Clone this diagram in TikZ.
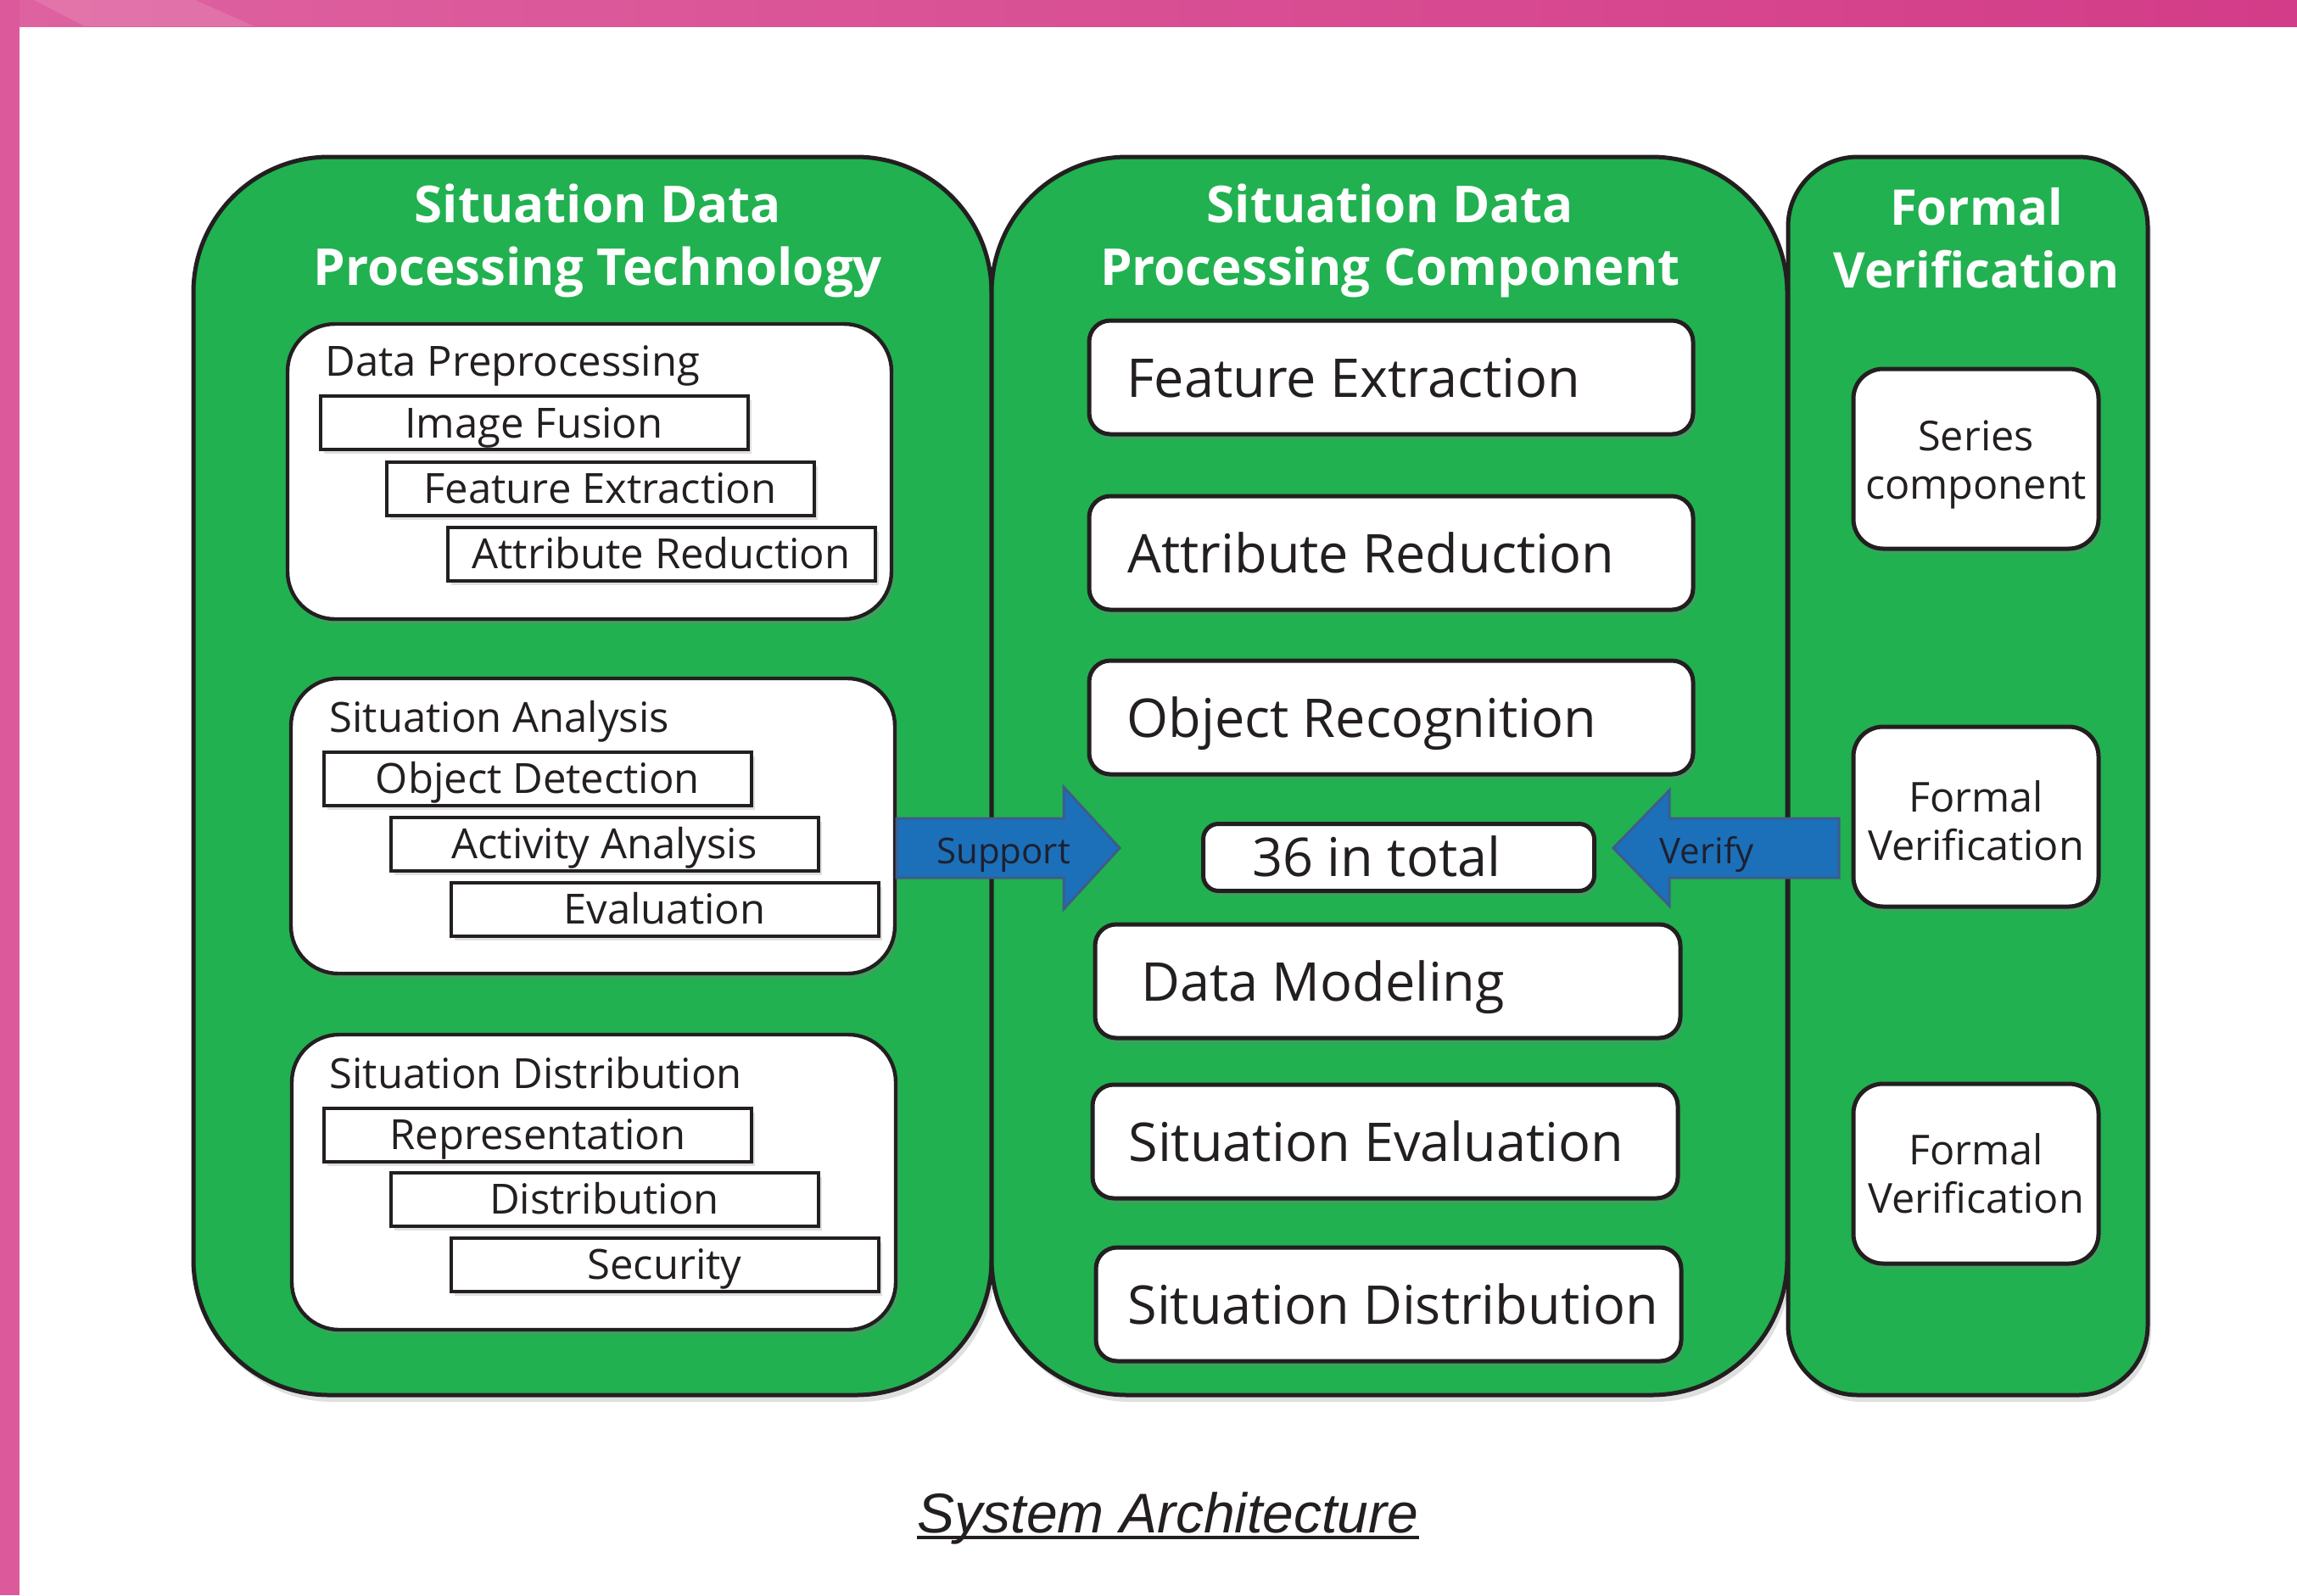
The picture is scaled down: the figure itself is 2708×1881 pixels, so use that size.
\documentclass[tikz,border=0pt]{standalone}
\usepackage{fontspec}
\setmainfont{Open Sans}
\newfontfamily\capfont{Liberation Sans}
\usetikzlibrary{shadows}
\definecolor{pgreen}{RGB}{33,177,80}
\definecolor{lineblk}{RGB}{35,31,32}
\definecolor{ablue}{RGB}{27,112,185}
\definecolor{aborder}{RGB}{62,92,140}
\definecolor{atext}{RGB}{30,32,48}
\definecolor{pinkL}{RGB}{222,98,160}
\definecolor{pinkR}{RGB}{211,60,136}
\definecolor{pinkSide}{RGB}{220,90,155}
\tikzset{
  panel/.style={draw=lineblk, line width=2.5pt, fill=pgreen, inner sep=0pt,
    drop shadow={shadow xshift=2pt, shadow yshift=-4pt, opacity=0.25}},
  ttl/.style={text=white, anchor=base, inner sep=0pt, font=\bfseries\fontsize{30}{37}\selectfont},
  wbox/.style={draw=lineblk, line width=2.2pt, fill=white, rounded corners=28pt,
    minimum width=356pt, minimum height=174pt, inner sep=0pt,
    drop shadow={shadow xshift=2pt, shadow yshift=-3pt, opacity=0.3}},
  heading/.style={anchor=base west, inner sep=0pt, text=lineblk, font=\fontsize{24.5}{29}\selectfont},
  subrect/.style={draw=lineblk, line width=2pt, fill=white, minimum width=252pt,
    minimum height=31.5pt, inner sep=0pt, text=lineblk, font=\fontsize{24.5}{29}\selectfont,
    text height=17.5pt, text depth=0pt,
    drop shadow={shadow xshift=2pt, shadow yshift=-2.5pt, opacity=0.25}},
  mbox/.style={draw=lineblk, line width=2.5pt, fill=white, rounded corners=12.5pt,
    minimum height=67pt, inner sep=0pt,
    drop shadow={shadow xshift=1.5pt, shadow yshift=-3pt, opacity=0.3}},
  mtext/.style={anchor=base west, inner sep=0pt, text=lineblk, font=\fontsize{31.5}{38}\selectfont},
  rbox/.style={draw=lineblk, line width=2.5pt, fill=white, rounded corners=17.5pt,
    minimum width=144.5pt, minimum height=106pt, inner sep=0pt,
    drop shadow={shadow xshift=1.5pt, shadow yshift=-3pt, opacity=0.3}},
  rtext/.style={inner sep=0pt, align=center, text=lineblk, font=\fontsize{24.3}{28.5}\selectfont},
  barrow/.style={fill=ablue, draw=aborder, line width=1.5pt, line join=miter},
  atxt/.style={anchor=base, inner sep=0pt, text=atext, font=\fontsize{21}{25}\selectfont}
}
\begin{document}
\begin{tikzpicture}[x=0.5pt, y=-0.5pt]
\useasboundingbox (0,0) rectangle (2708,1881);
\fill[white] (0,0) rectangle (2708,1881);
% pink frame
\shade[left color=pinkL, right color=pinkR] (0,0) rectangle (2708,31);
\fill[white, opacity=0.12] (40,0) -- (230,0) -- (300,31) -- (100,31) -- cycle;
\fill[pinkSide] (0,0) rectangle (23,1881);

% panels
\node[panel, rounded corners=80pt, minimum width=470.5pt, minimum height=730pt] (pl) at (698.5,915) {};
\node[panel, rounded corners=80pt, minimum width=469pt, minimum height=730pt] (pm) at (1638,915) {};
\node[panel, rounded corners=41pt, minimum width=212pt, minimum height=730pt] (pr) at (2320,915) {};

% titles
\node[ttl] (tl1) at (705,262) {Situation Data};
\node[ttl] (tl2) at (705,336) {Processing Technology};
\node[ttl] (tm1) at (1639,262) {Situation Data};
\node[ttl] (tm2) at (1639,336) {Processing Component};
\node[ttl, font=\bfseries\fontsize{29}{36}\selectfont] (tr1) at (2330,265) {Formal};
\node[ttl, font=\bfseries\fontsize{29}{36}\selectfont] (tr2) at (2330,339) {Verification};

% left boxes
\node[wbox] (b1) at (695,556) {};
\node[heading] (h1) at (383,443) {Data Preprocessing};
\node[subrect] (s11) at (629.5,498.5) {Image Fusion};
\node[subrect] (s12) at (707.5,576) {Feature Extraction};
\node[subrect] (s13) at (779.5,653) {Attribute Reduction};

\node[wbox] (b2) at (699,974) {};
\node[heading] (h2) at (388,863) {Situation Analysis};
\node[subrect] (s21) at (634,918) {Object Detection};
\node[subrect] (s22) at (712.5,995) {Activity Analysis};
\node[subrect] (s23) at (783.5,1072) {Evaluation};

\node[wbox] (b3) at (700,1394) {};
\node[heading] (h3) at (388,1283) {Situation Distribution};
\node[subrect] (s31) at (634,1338) {Representation};
\node[subrect] (s32) at (712.5,1414) {Distribution};
\node[subrect] (s33) at (783.5,1491) {Security};

% middle boxes
\node[mbox, minimum width=356pt] (m1) at (1640,445) {};
\node[mtext] (m1t) at (1328,468) {Feature Extraction};
\node[mbox, minimum width=356pt] (m2) at (1640,652) {};
\node[mtext] (m2t) at (1329,675) {Attribute Reduction};
\node[mbox, minimum width=356pt] (m3) at (1640,846) {};
\node[mtext] (m3t) at (1328,869) {Object Recognition};
\node[mbox, minimum width=230.5pt, minimum height=39.5pt, rounded corners=9pt] (tot) at (1649,1011) {};
\node[mtext] (tott) at (1476,1033) {36 in total};
\node[mbox, minimum width=345pt] (m4) at (1636,1157) {};
\node[mtext] (m4t) at (1345,1180) {Data Modeling};
\node[mbox, minimum width=345pt] (m5) at (1633,1346) {};
\node[mtext] (m5t) at (1330,1369) {Situation Evaluation};
\node[mbox, minimum width=345pt] (m6) at (1637,1538) {};
\node[mtext] (m6t) at (1329,1561) {Situation Distribution};

% right boxes
\node[rbox] (r1) at (2329.5,541) {};
\node[rtext] (r1t) at ([yshift=-3.5pt]r1.center) {Series\\component};
\node[rbox] (r2) at (2329.5,963) {};
\node[rtext] (r2t) at ([yshift=-2.5pt]r2.center) {Formal\\Verification};
\node[rbox] (r3) at (2329.5,1384) {};
\node[rtext] (r3t) at (r3.center) {Formal\\Verification};

% block arrows
\draw[barrow] (1057,965) -- (1254,965) -- (1254,928) -- (1320,1000) -- (1254,1072) -- (1254,1035) -- (1057,1035) -- cycle;
\node[atxt] (sup) at (1183,1018) {Support};
\draw[barrow] (2168,965) -- (1968,965) -- (1968,932) -- (1902,1000) -- (1968,1068) -- (1968,1035) -- (2168,1035) -- cycle;
\node[atxt] (ver) at (2012,1018) {Verify};

% caption
\node[anchor=base, inner sep=0pt, text=lineblk, font=\capfont\itshape\fontsize{33}{40}\selectfont] (cap) at (1377,1807) {System Architecture};
\draw[lineblk, line width=2pt] ([yshift=-3pt]cap.base west) -- ([yshift=-3pt]cap.base east);
\end{tikzpicture}
\end{document}
